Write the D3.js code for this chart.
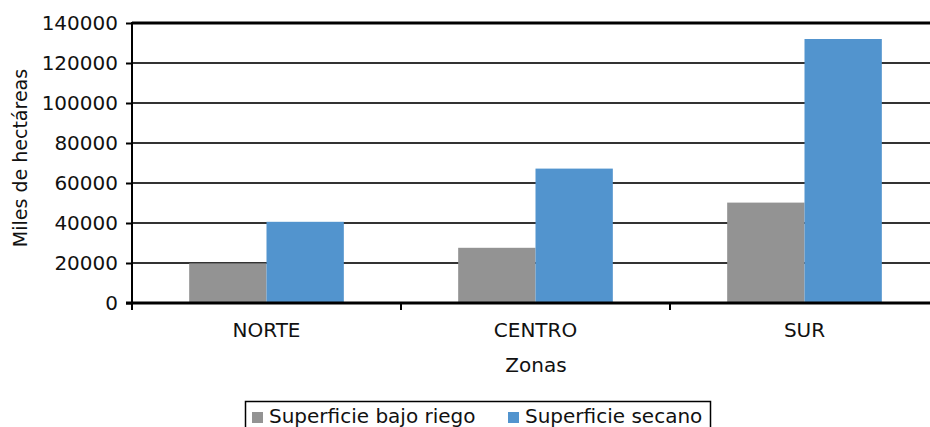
<!DOCTYPE html>
<html><head><meta charset="utf-8">
<script src="https://cdn.jsdelivr.net/npm/d3@7"></script>
<style>
html,body{margin:0;padding:0;background:#fff;}
text{font-family:"DejaVu Sans",Verdana,sans-serif;fill:#111;}
</style></head>
<body>
<svg id="c" width="930" height="427"></svg>
<script>
const categories = ["NORTE", "CENTRO", "SUR"];
const seriesNames = ["Superficie bajo riego", "Superficie secano"];
const riego = [19800, 27600, 50200];
const secano = [40600, 67200, 132000];
const yTicks = [0, 20000, 40000, 60000, 80000, 100000, 120000, 140000];
const colors = ["#939393", "#5294CE"];
const FS = 20;

const svg = d3.select("#c");
const L = 132, R = 939, T = 23, B = 303;
const x = d3.scaleBand().domain(categories).range([L, R]).padding(0);
const inner = d3.scaleBand().domain(seriesNames).range([0, x.bandwidth()]).paddingOuter(0.7393).paddingInner(0);
const y = d3.scaleLinear().domain([0, 140000]).range([B, T]);

// gridlines
svg.append("g").selectAll("line").data(yTicks.filter(d => d > 0)).join("line")
  .attr("x1", L).attr("x2", R).attr("y1", d => y(d)).attr("y2", d => y(d))
  .attr("stroke", d => d === 140000 ? "#000" : "#333").attr("stroke-width", d => d === 140000 ? 3 : 2);

// bars
const data = categories.map((c, i) => ({c, vals: [riego[i], secano[i]]}));
const g = svg.append("g").selectAll("g").data(data).join("g")
  .attr("transform", d => `translate(${x(d.c)},0)`);
g.selectAll("rect").data(d => d.vals.map((v, j) => ({v, s: seriesNames[j], j}))).join("rect")
  .attr("x", d => inner(d.s)).attr("width", inner.bandwidth())
  .attr("y", d => y(d.v)).attr("height", d => B - y(d.v))
  .attr("fill", d => colors[d.j]);

// y axis
const yAxis = d3.axisLeft(y).tickValues(yTicks).tickFormat(d3.format("d")).tickSize(6).tickPadding(8);
const ya = svg.append("g").attr("transform", `translate(${L},0)`).call(yAxis);
ya.select(".domain").remove();
ya.selectAll(".tick line").attr("stroke", "#000").attr("stroke-width", 2);
ya.selectAll(".tick text").attr("font-size", FS).attr("font-family", "DejaVu Sans").attr("fill", "#111");
svg.append("line").attr("x1", L).attr("x2", L).attr("y1", T - 1).attr("y2", B + 7)
  .attr("stroke", "#000").attr("stroke-width", 2);

// x axis
svg.append("line").attr("x1", L - 6).attr("x2", R).attr("y1", B).attr("y2", B)
  .attr("stroke", "#000").attr("stroke-width", 3);
svg.append("g").selectAll("line").data(categories.slice(1)).join("line")
  .attr("x1", d => x(d)).attr("x2", d => x(d)).attr("y1", B).attr("y2", B + 7)
  .attr("stroke", "#000").attr("stroke-width", 2);
svg.append("g").selectAll("text").data(categories).join("text")
  .attr("x", d => x(d) + x.bandwidth() / 2).attr("y", 337)
  .attr("text-anchor", "middle").attr("font-size", FS).text(d => d);

svg.append("text").attr("x", 536).attr("y", 372).attr("text-anchor", "middle")
  .attr("font-size", FS).text("Zonas");
svg.append("text").attr("transform", "translate(27,158) rotate(-90)")
  .attr("text-anchor", "middle").attr("font-size", 19).text("Miles de hectáreas");

// legend
const lg = svg.append("g");
lg.append("rect").attr("x", 245.5).attr("y", 401.5).attr("width", 465).attr("height", 40)
  .attr("fill", "none").attr("stroke", "#000").attr("stroke-width", 1.5);
const legX = [252, 508];
seriesNames.forEach((s, i) => {
  lg.append("rect").attr("x", legX[i]).attr("y", 412).attr("width", 11).attr("height", 11).attr("fill", colors[i]);
  lg.append("text").attr("x", legX[i] + 17).attr("y", 423).attr("font-size", FS).text(s);
});
</script>
</body></html>
